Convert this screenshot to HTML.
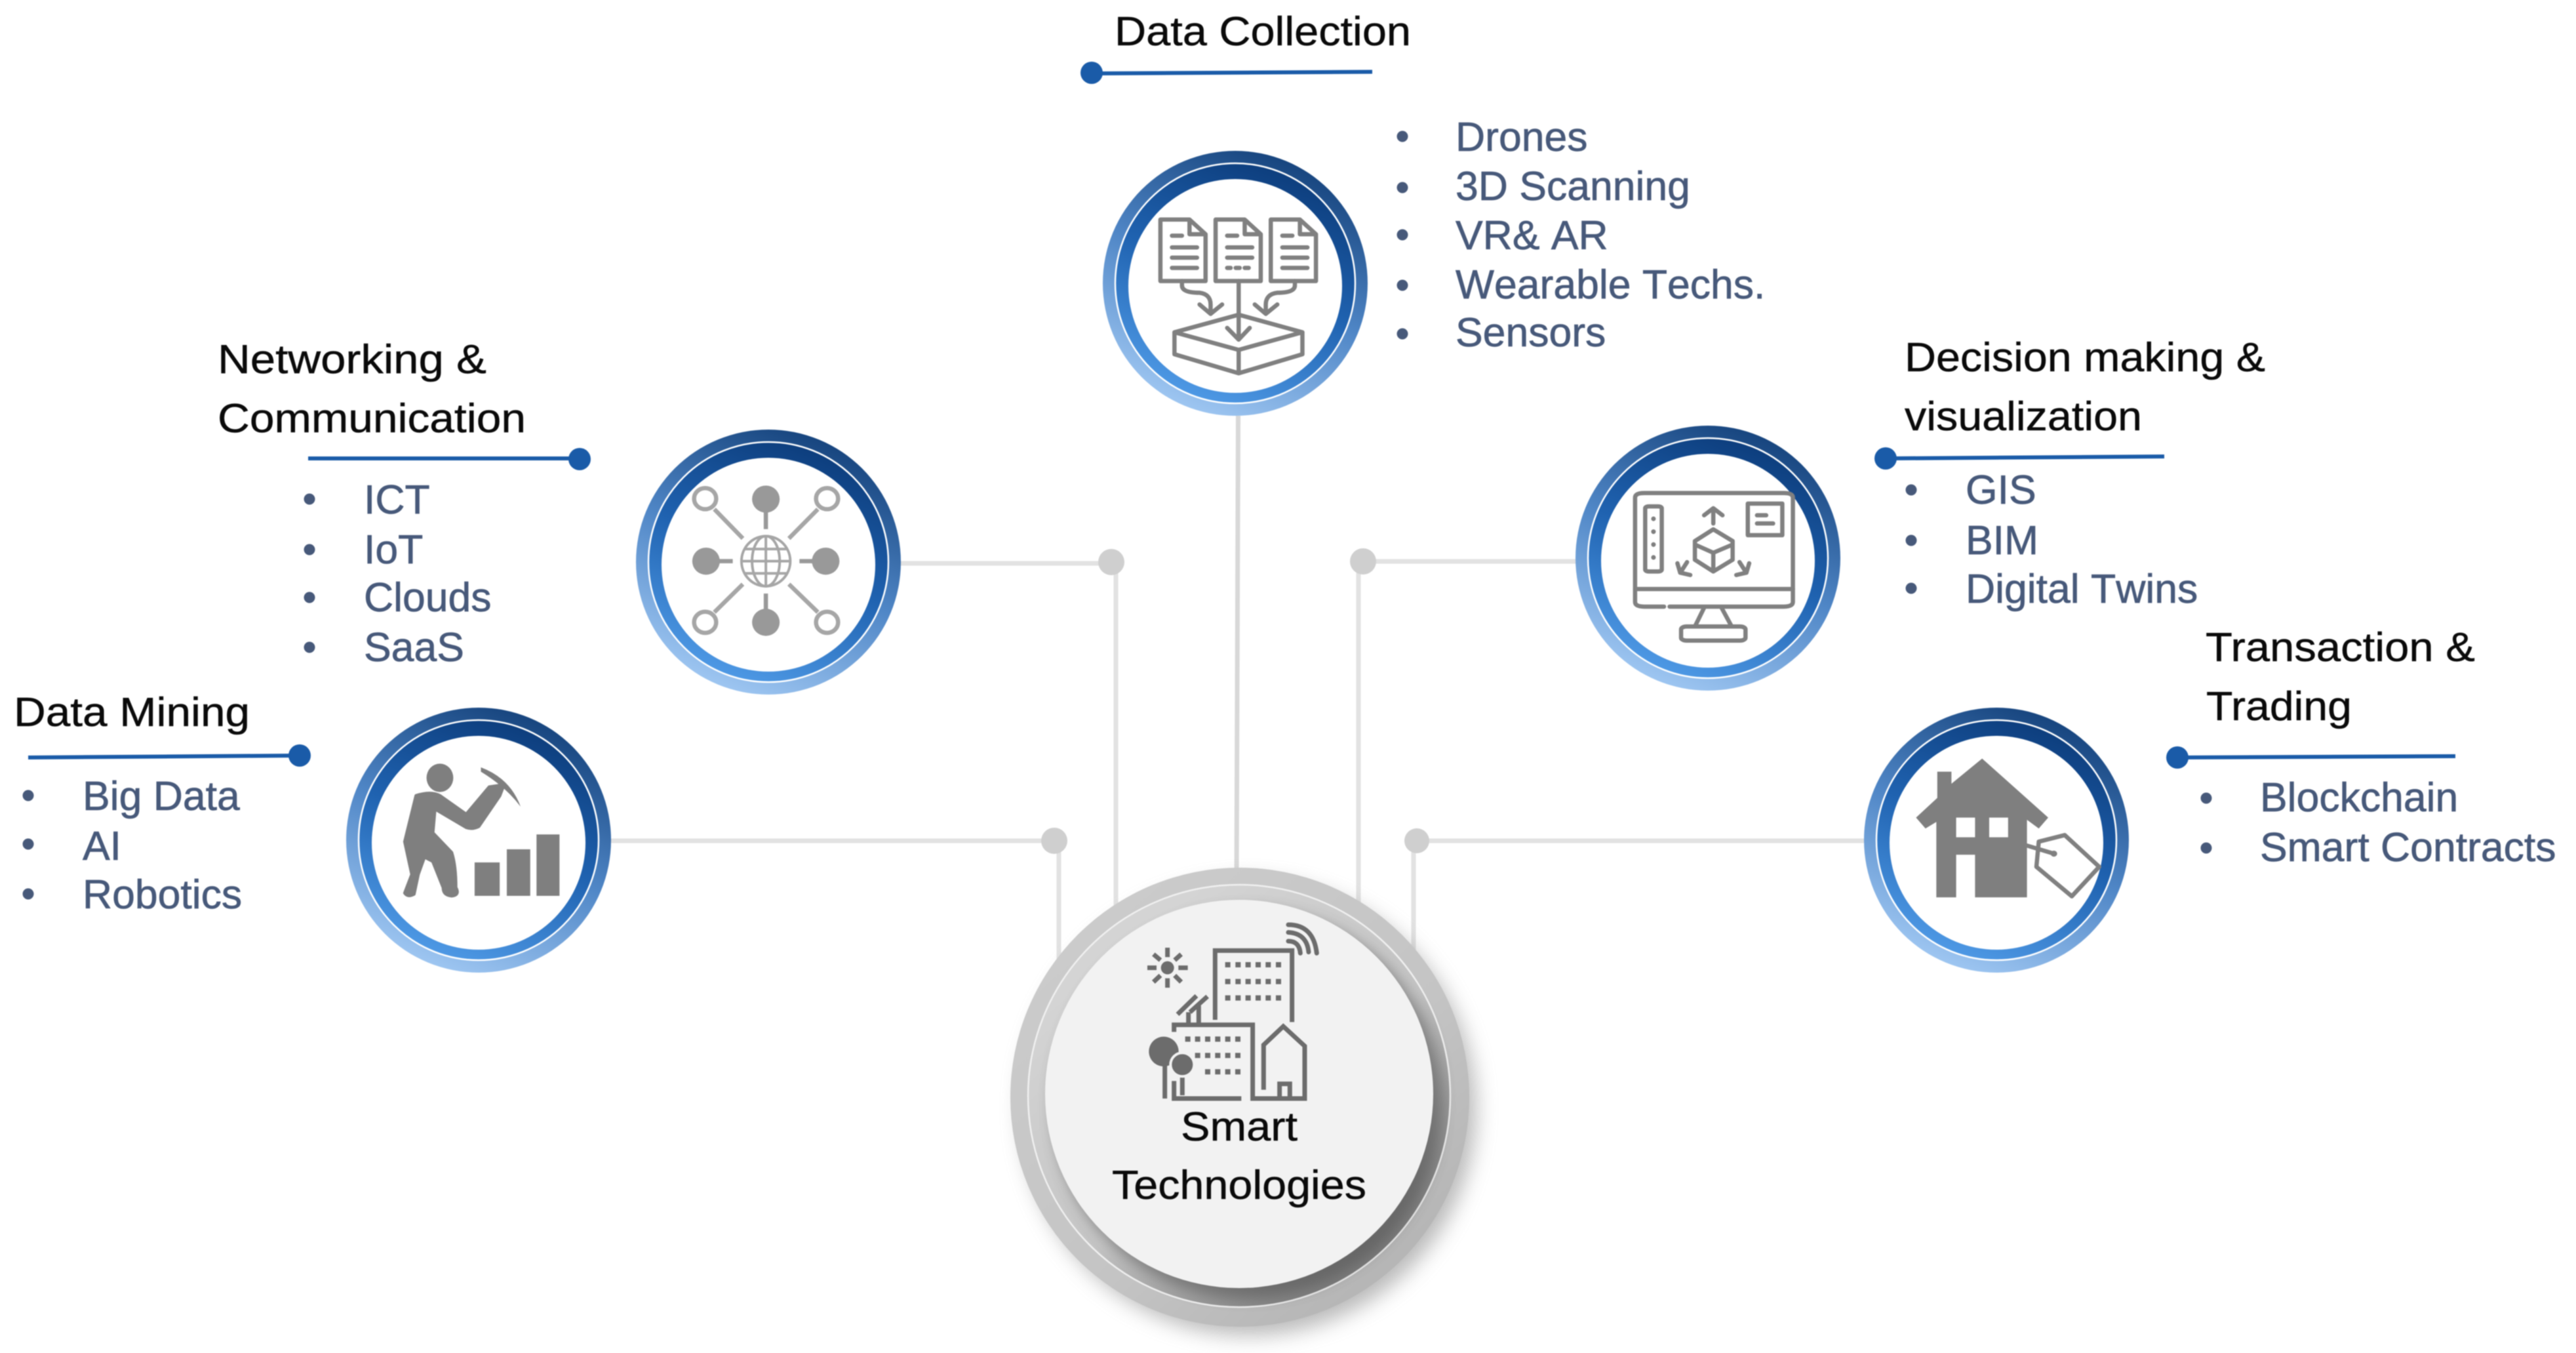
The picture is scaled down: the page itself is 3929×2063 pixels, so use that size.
<!DOCTYPE html>
<html><head><meta charset="utf-8"><title>Smart Technologies</title>
<style>
html,body{margin:0;padding:0;background:#fff}
svg{display:block;filter:blur(.8px)}
text{font-family:"Liberation Sans",Arial,sans-serif}
.t{font-size:62px;fill:#0a0a0a;stroke:#0a0a0a;stroke-width:.5}
.l{font-size:62.5px;fill:#47597a;stroke:#47597a;stroke-width:.7;font-kerning:none}
.b{fill:#47597a}
.v,.v *{vector-effect:non-scaling-stroke}
.s{fill:none;stroke:#808080;stroke-width:6.500;stroke-linecap:round;stroke-linejoin:round}
.f{fill:#7f7f7f;stroke:none}
.c{fill:none;stroke:#6c6c6c;stroke-width:7;stroke-linejoin:miter}
</style></head><body>
<svg xmlns="http://www.w3.org/2000/svg" width="3929" height="2063" viewBox="0 0 3929 2063">
<defs>
<linearGradient id="o" x1=".72" y1="0" x2=".3" y2="1"><stop offset="0" stop-color="#123f78"/><stop offset=".5" stop-color="#4f86c6"/><stop offset="1" stop-color="#a3caf4"/></linearGradient>
<linearGradient id="i" x1=".75" y1="0" x2=".35" y2="1"><stop offset="0" stop-color="#0b3a78"/><stop offset=".5" stop-color="#1f62b0"/><stop offset="1" stop-color="#4f9ae6"/></linearGradient>
<linearGradient id="co" x1=".15" y1=".1" x2=".85" y2=".9"><stop offset="0" stop-color="#cbcbcb"/><stop offset=".6" stop-color="#c4c4c4"/><stop offset="1" stop-color="#b4b4b4"/></linearGradient>
<linearGradient id="ci" x1=".2" y1=".15" x2=".8" y2=".9"><stop offset="0" stop-color="#d4d4d4"/><stop offset=".55" stop-color="#c4c4c4"/><stop offset="1" stop-color="#7c7c7c"/></linearGradient>
<filter id="b1" x="-20%" y="-20%" width="140%" height="140%"><feGaussianBlur stdDeviation="16"/></filter>
<filter id="b2" x="-20%" y="-20%" width="140%" height="140%"><feGaussianBlur stdDeviation="10"/></filter>
<g id="ring">
<circle r="202" fill="url(#o)"/><circle r="182" fill="url(#i)"/>
<circle r="183" fill="none" stroke="#fff" stroke-width="2.500"/>
<circle cy="4" r="163" fill="#fff"/>
</g>
</defs>
<rect width="3929" height="2063" fill="#fff"/>

<!-- connectors -->
<g stroke="#e2e2e2" stroke-width="7" fill="none">
<path d="M1373 859H1695M1702 860V1400"/>
<path d="M931 1282H1608M1615 1282V1480"/>
<path d="M1888.500 634L1886 1340" stroke="#d8d8d8"/>
<path d="M2405 856H2079M2072 856V1400"/>
<path d="M2848 1282H2161M2156 1282V1460"/>
</g>
<g fill="#cfcfcf"><circle cx="1695" cy="857" r="20"/><circle cx="1608" cy="1282" r="20"/><circle cx="2079" cy="856" r="20"/><circle cx="2161" cy="1282" r="19"/></g>

<!-- central -->
<circle cx="1905" cy="1690" r="346" fill="#8a8a8a" opacity=".6" filter="url(#b1)"/>
<circle cx="1891" cy="1673" r="350" fill="url(#co)"/>
<circle cx="1890" cy="1671" r="322" fill="url(#ci)"/>
<circle cx="1890" cy="1671" r="322" fill="none" stroke="#f0f0f0" stroke-width="2.500"/>
<circle cx="1902" cy="1682" r="298" fill="#444" opacity=".45" filter="url(#b2)"/>
<circle cx="1890" cy="1668" r="296" fill="#f2f2f2"/>
<g class="v" transform="translate(1720,1400) scale(.3333)">
<path class="c" d="M400 465V148H752V475"/>
<path class="c" d="M212 520V488H572V825H810V585L712 495L622 580V785"/>
<path class="c" d="M212 745V825H520M695 825V758H742V825"/>
<path class="c" stroke-linecap="round" d="M735 30Q850 30 865 160M735 65Q820 70 828 155M735 105Q785 105 790 160"/>
<path class="c" d="M228 440L315 355M285 430L365 358M278 430V480M325 400V480"/>
<path class="c" d="M90 227H132M232 227H275M182 135V178M182 275V318M118 165L150 192M245 165L215 192M118 292L150 262M245 292L215 262"/>
<path class="c" d="M170 670V825M250 720V810"/>
<circle cx="182" cy="227" r="30" fill="#6c6c6c"/>
<circle cx="165" cy="610" r="68" fill="#6c6c6c"/>
<circle cx="250" cy="670" r="54" fill="#6c6c6c" stroke="#f2f2f2" stroke-width="4"/>
<g fill="#6c6c6c">
<path d="M446 201h24v24h-24zM493 201h24v24h-24zM539 201h24v24h-24zM585 201h24v24h-24zM631 201h24v24h-24zM678 201h24v24h-24zM446 278h24v24h-24zM493 278h24v24h-24zM539 278h24v24h-24zM585 278h24v24h-24zM631 278h24v24h-24zM678 278h24v24h-24zM446 353h24v24h-24zM493 353h24v24h-24zM539 353h24v24h-24zM585 353h24v24h-24zM631 353h24v24h-24zM678 353h24v24h-24z"/>
<path d="M263 541h24v24h-24zM308 541h24v24h-24zM354 541h24v24h-24zM400 541h24v24h-24zM446 541h24v24h-24zM492 541h24v24h-24zM308 616h24v24h-24zM354 616h24v24h-24zM400 616h24v24h-24zM446 616h24v24h-24zM492 616h24v24h-24zM354 691h24v24h-24zM400 691h24v24h-24zM446 691h24v24h-24zM492 691h24v24h-24z"/>
</g>
</g>
<text class="t" x="1801" y="1739" textLength="178" lengthAdjust="spacingAndGlyphs">Smart</text>
<text class="t" x="1696" y="1828" textLength="388" lengthAdjust="spacingAndGlyphs">Technologies</text>

<!-- rings -->
<use href="#ring" x="1884" y="432"/>
<use href="#ring" x="1172" y="857"/>
<use href="#ring" x="730" y="1281"/>
<use href="#ring" x="2605" y="851"/>
<use href="#ring" x="3045" y="1281"/>

<!-- Data Collection -->
<text class="t" x="1700" y="69" textLength="452" lengthAdjust="spacingAndGlyphs">Data Collection</text>
<path d="M1665 112L2093 109.500" stroke="#1a5ba8" stroke-width="6"/><circle cx="1665" cy="111" r="17" fill="#1a5ba8"/>
<g class="b"><circle cx="2139" cy="208" r="8.500"/><circle cx="2139" cy="286" r="8.500"/><circle cx="2139" cy="358" r="8.500"/><circle cx="2139" cy="435" r="8.500"/><circle cx="2139" cy="509" r="8.500"/></g>
<text class="l" x="2220" y="230">Drones</text>
<text class="l" x="2220" y="305">3D Scanning</text>
<text class="l" x="2220" y="380">VR&amp; AR</text>
<text class="l" x="2220" y="455">Wearable Techs.</text>
<text class="l" x="2220" y="528">Sensors</text>
<g class="v" transform="translate(1600,0) scale(.7653,.4464)">
<g class="s">
<path d="M222 750H280L312 800V960H222ZM280 750V800H312"/>
<path d="M332 750H390L422 800V960H332ZM390 750V800H422"/>
<path d="M442 750H500L532 800V960H442ZM500 750V800H532"/>
<path d="M245 805H265M245 845H295M245 880H295M245 915H295"/>
<path d="M355 805H375M355 845H405M355 880H405M355 915H362M372 915H380M390 915H398"/>
<path d="M465 805H485M465 845H515M465 880H515M465 915H515"/>
<path d="M378 960V1155M355 1120L378 1160L400 1120"/>
<path d="M265 960V975Q265 1000 300 1000Q322 1005 322 1040V1070M300 1040L322 1072L345 1040"/>
<path d="M490 960V975Q490 1000 455 1000Q432 1005 432 1040V1070M410 1040L432 1072L455 1040"/>
<path d="M378 1075L505 1135V1210L378 1275L250 1210V1135ZM250 1135L378 1195L505 1135M378 1195V1275"/>
</g></g>

<!-- Networking -->
<text class="t" x="332" y="569" textLength="410" lengthAdjust="spacingAndGlyphs">Networking &amp;</text>
<text class="t" x="332" y="659" textLength="470" lengthAdjust="spacingAndGlyphs">Communication</text>
<path d="M470 699H884" stroke="#1a5ba8" stroke-width="6"/><circle cx="884" cy="700" r="17" fill="#1a5ba8"/>
<g class="b"><circle cx="472" cy="761" r="8.500"/><circle cx="472" cy="838" r="8.500"/><circle cx="472" cy="911" r="8.500"/><circle cx="472" cy="987" r="8.500"/></g>
<text class="l" x="555" y="783">ICT</text>
<text class="l" x="555" y="859">IoT</text>
<text class="l" x="555" y="932">Clouds</text>
<text class="l" x="555" y="1008">SaaS</text>
<g class="v" transform="translate(300,480) scale(.7018,.3571)">
<g fill="#999"><ellipse cx="1237" cy="787" rx="30" ry="58"/><ellipse cx="1237" cy="1313" rx="30" ry="58"/><ellipse cx="1107" cy="1052" rx="30" ry="58"/><ellipse cx="1367" cy="1052" rx="30" ry="58"/></g>
<g fill="none" stroke="#a6a6a6" stroke-width="6.500">
<ellipse cx="1105" cy="785" rx="24" ry="45"/><ellipse cx="1370" cy="785" rx="24" ry="45"/><ellipse cx="1105" cy="1313" rx="24" ry="45"/><ellipse cx="1370" cy="1313" rx="24" ry="45"/>
<path d="M1125 830L1187 955M1350 830L1287 955M1125 1270L1187 1150M1350 1270L1287 1150"/>
</g>
<g fill="none" stroke="#999" stroke-width="6.500"><path d="M1237 835V915M1237 1190V1265M1135 1052H1165M1310 1052H1340"/></g>
<g fill="none" stroke="#a6a6a6" stroke-width="4">
<ellipse cx="1237" cy="1052" rx="53" ry="107"/><ellipse cx="1237" cy="1052" rx="30" ry="107"/>
<path d="M1237 945V1159M1190 1000H1284M1184 1052H1290M1190 1104H1284"/>
</g></g>

<!-- Data Mining -->
<text class="t" x="21" y="1107" textLength="360" lengthAdjust="spacingAndGlyphs">Data Mining</text>
<path d="M43 1155L457 1152" stroke="#1a5ba8" stroke-width="6"/><circle cx="457" cy="1152" r="17" fill="#1a5ba8"/>
<g class="b"><circle cx="43" cy="1213" r="8.500"/><circle cx="43" cy="1287" r="8.500"/><circle cx="43" cy="1363" r="8.500"/></g>
<text class="l" x="126" y="1235">Big Data</text>
<text class="l" x="126" y="1311">AI</text>
<text class="l" x="126" y="1385">Robotics</text>
<g class="v" transform="translate(0,1000) scale(.6378,.3333)">
<g class="f">
<ellipse cx="1052" cy="558" rx="32" ry="65"/>
<path stroke="#7f7f7f" stroke-width="5" style="stroke:#7f7f7f" stroke-linejoin="round" d="M995 640Q1030 618 1052 640L1115 725L1170 600L1205 590L1195 640L1145 780Q1130 795 1115 785L1040 700L1035 810L1080 900Q1090 960 1090 1060Q1100 1095 1080 1098Q1060 1095 1060 1060L1035 940L1015 920L1000 1000L990 1090Q975 1105 968 1085L985 1000L968 850Z"/>
<path d="M1150 510Q1220 560 1245 690Q1210 600 1150 530Z"/>
<rect x="1135" y="945" width="60" height="153"/><rect x="1212" y="885" width="56" height="213"/><rect x="1283" y="817" width="55" height="281"/>
</g></g>

<!-- Decision -->
<text class="t" x="2905" y="566" textLength="550" lengthAdjust="spacingAndGlyphs">Decision making &amp;</text>
<text class="t" x="2905" y="656" textLength="362" lengthAdjust="spacingAndGlyphs">visualization</text>
<path d="M2876 699L3301 696" stroke="#1a5ba8" stroke-width="6"/><circle cx="2876" cy="699" r="17" fill="#1a5ba8"/>
<g class="b"><circle cx="2915" cy="747" r="8.500"/><circle cx="2915" cy="824" r="8.500"/><circle cx="2915" cy="897" r="8.500"/></g>
<text class="l" x="2998" y="768">GIS</text>
<text class="l" x="2998" y="845">BIM</text>
<text class="l" x="2998" y="919">Digital Twins</text>
<g class="v" transform="translate(2350,500) scale(.7018,.3571)">
<g class="s">
<path d="M268 1190H225Q205 1190 205 1170V725Q205 705 225 705H528Q548 705 548 725V1170Q548 1190 528 1190H280"/>
<path d="M205 1115H548"/>
<path d="M355 1195L335 1275M393 1195L415 1275"/>
<rect x="305" y="1275" width="140" height="60" rx="12"/>
<rect x="227" y="762" width="36" height="278" rx="8"/>
<rect x="450" y="750" width="75" height="135"/>
<path d="M470 800H490M470 835H505"/>
<path d="M375 770V835M355 800L375 770L395 800"/>
<path d="M375 860L417 910V990L375 1040L335 990V910ZM335 925L375 960L417 925M375 960V1040"/>
<path d="M318 1000L305 1040M297 1005L303 1045L325 1055"/>
<path d="M432 1000L445 1040M453 1005L447 1045L425 1055"/>
</g>
<g class="f"><ellipse cx="245" cy="815" rx="5" ry="10"/><ellipse cx="245" cy="870" rx="5" ry="10"/><ellipse cx="245" cy="925" rx="5" ry="10"/><ellipse cx="245" cy="980" rx="5" ry="10"/></g>
</g>

<!-- Transaction -->
<text class="t" x="3364" y="1008" textLength="411" lengthAdjust="spacingAndGlyphs">Transaction &amp;</text>
<text class="t" x="3365" y="1098" textLength="222" lengthAdjust="spacingAndGlyphs">Trading</text>
<path d="M3320 1155L3745 1153" stroke="#1a5ba8" stroke-width="6"/><circle cx="3321" cy="1155" r="17" fill="#1a5ba8"/>
<g class="b"><circle cx="3365" cy="1217" r="8.500"/><circle cx="3365" cy="1293" r="8.500"/></g>
<text class="l" x="3447" y="1237">Blockchain</text>
<text class="l" x="3447" y="1313">Smart Contracts</text>
<g class="v" transform="translate(2800,1000) scale(.72,.3333)">
<path class="f" d="M310 470L450 740L430 790L405 750V1105H295V910H255V1105H213V760L190 790L170 740L215 650V530H245V585Z"/>
<rect x="255" y="740" width="40" height="90" fill="#fff"/><rect x="325" y="740" width="40" height="90" fill="#fff"/>
<path class="s" d="M430 850L485 820L558 965L500 1100L425 965ZM405 868L462 905"/>
<ellipse cx="462" cy="905" rx="7" ry="14" fill="#808080"/>
</g>
</svg>
</body></html>
